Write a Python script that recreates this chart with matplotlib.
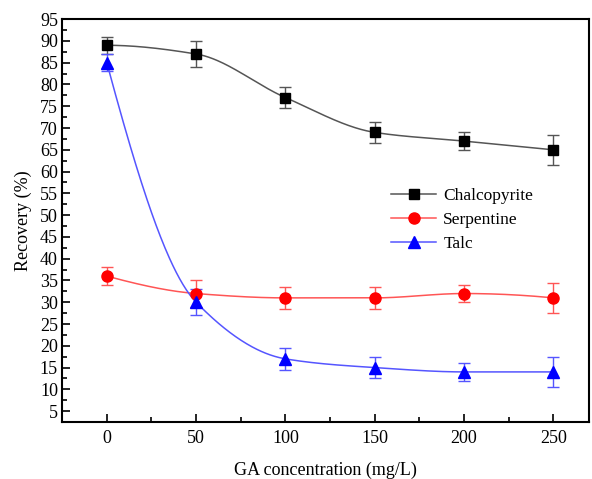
import numpy as np
import matplotlib.pyplot as plt
from matplotlib.ticker import MultipleLocator

plt.rcParams['font.family'] = ['Liberation Serif', 'DejaVu Serif']

# data
conc = [0, 50, 100, 150, 200, 250]
chalcopyrite = [89, 87, 77, 69, 67, 65]
chalcopyrite_err = [2, 3, 2.5, 2.5, 2, 3.5]
serpentine = [36, 32, 31, 31, 32, 31]
serpentine_err = [2, 3, 2.5, 2.5, 2, 3.5]
talc = [85, 30, 17, 15, 14, 14]
talc_err = [2, 3, 2.5, 2.5, 2, 3.5]


def pchip(x, y, xs):
    # monotone cubic interpolation (Fritsch-Carlson), numpy only
    x = np.asarray(x, float)
    y = np.asarray(y, float)
    h = np.diff(x)
    d = np.diff(y) / h
    m = np.zeros_like(y)
    for k in range(1, len(x) - 1):
        if d[k - 1] * d[k] > 0:
            w1 = 2 * h[k] + h[k - 1]
            w2 = h[k] + 2 * h[k - 1]
            m[k] = (w1 + w2) / (w1 / d[k - 1] + w2 / d[k])
    def end(h0, h1, d0, d1):
        s = ((2 * h0 + h1) * d0 - h0 * d1) / (h0 + h1)
        if np.sign(s) != np.sign(d0):
            s = 0.0
        elif np.sign(d0) != np.sign(d1) and abs(s) > abs(3 * d0):
            s = 3 * d0
        return s
    m[0] = end(h[0], h[1], d[0], d[1])
    m[-1] = end(h[-1], h[-2], d[-1], d[-2])
    idx = np.clip(np.searchsorted(x, xs) - 1, 0, len(h) - 1)
    t = (xs - x[idx]) / h[idx]
    h00 = 2 * t**3 - 3 * t**2 + 1
    h10 = t**3 - 2 * t**2 + t
    h01 = -2 * t**3 + 3 * t**2
    h11 = t**3 - t**2
    return h00 * y[idx] + h10 * h[idx] * m[idx] + h01 * y[idx + 1] + h11 * h[idx] * m[idx + 1]


fig = plt.figure(figsize=(5.92, 4.79), dpi=100)
ax = fig.add_axes([0.105, 0.119, 0.89, 0.841])

xs = np.linspace(conc[0], conc[-1], 400)
series = [
    ('Chalcopyrite', chalcopyrite, chalcopyrite_err, 'black', '#555555', 's', 7.5),
    ('Serpentine', serpentine, serpentine_err, 'red', '#ff5555', 'o', 8),
    ('Talc', talc, talc_err, 'blue', '#5555ff', '^', 9),
]
for name, vals, err, col, lcol, mk, ms in series:
    ax.plot(xs, pchip(conc, vals, xs), color=lcol, lw=1.1, zorder=2)
    ax.errorbar(conc, vals, yerr=err, fmt='none', ecolor=lcol, elinewidth=1.0,
                capsize=4, capthick=1.0, zorder=3)
    ax.plot(conc, vals, linestyle='none', marker=mk, markersize=ms, color=col, zorder=4)
    ax.plot([], [], color=lcol, lw=1.1, marker=mk, markersize=ms,
            markerfacecolor=col, markeredgecolor=col, label=name)

ax.set_xlim(-25, 270)
ax.set_ylim(2.5, 95)
ax.set_xticks(conc)
ax.xaxis.set_minor_locator(MultipleLocator(25))
ax.set_yticks(np.arange(5, 96, 5))
ax.yaxis.set_minor_locator(MultipleLocator(2.5))
ax.tick_params(which='both', direction='in', top=False, right=False, labelsize=13)
ax.tick_params(axis='x', pad=6)
ax.tick_params(axis='y', pad=3)
ax.tick_params(which='major', length=6, width=1.2)
ax.tick_params(which='minor', length=3.5, width=1.2)
for sp in ax.spines.values():
    sp.set_linewidth(1.5)

ax.set_xlabel('GA concentration (mg/L)', fontsize=13, labelpad=10)
ax.set_ylabel('Recovery (%)', fontsize=13, labelpad=6)

ax.legend(loc='upper left', bbox_to_anchor=(0.595, 0.62), frameon=False,
          fontsize=12.5, handlelength=2.6, handletextpad=0.4, labelspacing=0.45)

fig.savefig('out.png', dpi=100)
